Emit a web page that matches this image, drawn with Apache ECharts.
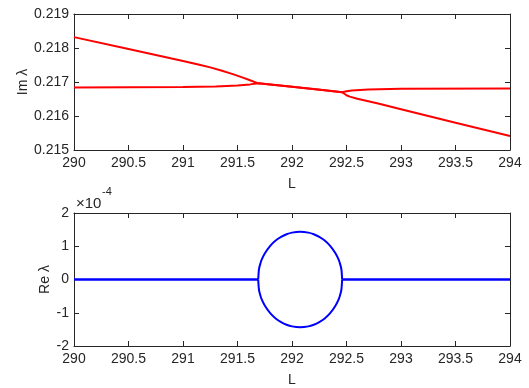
<!DOCTYPE html>
<html><head><meta charset="utf-8">
<script src="https://cdn.jsdelivr.net/npm/echarts@6/dist/echarts.min.js"></script>
<style>html,body{margin:0;padding:0;background:#fff}#c{width:529px;height:388px}</style>
</head><body><div id="c"></div>
<script>
// ---- data ----
const xTicks = [290, 290.5, 291, 291.5, 292, 292.5, 293, 293.5, 294];
const imTicks = [0.215, 0.216, 0.217, 0.218, 0.219];
const reTicks = [-2, -1, 0, 1, 2];

// Im λ branch A: starts high on the left, merges, ends low on the right
const imA_L = [290, 290.5, 291, 291.15, 291.25, 291.35, 291.45, 291.55, 291.615, 291.69, 292.0, 292.3, 292.46, 292.5, 292.53, 292.6, 292.8, 293, 293.5, 294];
const imA_V = [0.21832, 0.21797, 0.21762, 0.21751, 0.21743, 0.21734, 0.21724, 0.21713, 0.21705, 0.21696, 0.21686, 0.21676, 0.21670, 0.21661, 0.21657, 0.21651, 0.21636, 0.21620, 0.21580, 0.21541];
// Im λ branch B: nearly flat on the left, merges, nearly flat on the right
const imB_L = [290, 291, 291.3, 291.5, 291.615, 291.69, 292.0, 292.3, 292.46, 292.5, 292.55, 292.7, 293, 294];
const imB_V = [0.21684, 0.21685, 0.21687, 0.21690, 0.21693, 0.21696, 0.21686, 0.21676, 0.21670, 0.21673, 0.21675, 0.21678, 0.21680, 0.21681];

// Re λ (units of 1e-4)
const reLeft_L = [290, 291.69];
const reLeft_V = [0, 0];
const reRight_L = [292.46, 294];
const reRight_V = [0, 0];
const arc_L = [291.69, 291.695, 291.70, 291.71, 291.72, 291.75, 291.8, 291.85, 291.9, 291.95, 292.0, 292.075, 292.15, 292.2, 292.25, 292.3, 292.35, 292.4, 292.43, 292.44, 292.45, 292.455, 292.46];
const arcUpper_V = [0, 0.25, 0.36, 0.48, 0.58, 0.78, 1.01, 1.17, 1.28, 1.36, 1.41, 1.435, 1.41, 1.36, 1.28, 1.17, 1.01, 0.78, 0.58, 0.48, 0.36, 0.25, 0];
const arcLower_V = [0, -0.25, -0.36, -0.48, -0.58, -0.78, -1.01, -1.17, -1.28, -1.36, -1.41, -1.435, -1.41, -1.36, -1.28, -1.17, -1.01, -0.78, -0.58, -0.48, -0.36, -0.25, 0];

// ---- build ----
const pairs = (xs, ys) => xs.map((x, i) => [x, ys[i]]);
const AX = '#262626';
const FONT = 'Liberation Sans';
const FS = 14;

function xAx(grid, pos, labels, name) {
  return {
    type: 'value', gridIndex: grid, position: pos,
    min: xTicks[0], max: xTicks[xTicks.length - 1], interval: 0.5,
    axisLine: { show: true, onZero: false, lineStyle: { color: AX, width: 1 } },
    axisTick: { show: true, inside: true, length: 5, lineStyle: { color: AX } },
    axisLabel: { show: labels, color: AX, fontFamily: FONT, fontSize: FS, margin: 6 },
    splitLine: { show: false },
    name: name || '', nameLocation: 'middle', nameGap: 27, nameMoveOverlap: false,
    nameTextStyle: { color: AX, fontFamily: FONT, fontSize: FS }
  };
}
function yAx(grid, pos, labels, ticks, name, fmt, gap) {
  return {
    type: 'value', gridIndex: grid, position: pos,
    min: ticks[0], max: ticks[ticks.length - 1], interval: ticks[1] - ticks[0],
    axisLine: { show: true, onZero: false, lineStyle: { color: AX, width: 1 } },
    axisTick: { show: true, inside: true, length: 5, lineStyle: { color: AX } },
    axisLabel: { show: labels, color: AX, fontFamily: FONT, fontSize: FS, margin: 5, formatter: fmt },
    splitLine: { show: false },
    name: name || '', nameLocation: 'middle', nameGap: gap || 40, nameRotate: 90, nameMoveOverlap: false,
    nameTextStyle: { color: AX, fontFamily: FONT, fontSize: FS }
  };
}
const lineS = (xi, yi, data, color, w, sm) => ({
  type: 'line', xAxisIndex: xi, yAxisIndex: yi, data: data, showSymbol: false, symbol: 'none',
  smooth: sm || false,
  lineStyle: { color: color, width: w }, itemStyle: { color: color }, silent: true, z: 3
});

const chart = echarts.init(document.getElementById('c'), null, { renderer: 'canvas' });
chart.setOption({
  animation: false,
  backgroundColor: '#fff',
  grid: [
    { left: 74, right: 19, top: 14, height: 136 },
    { left: 74, right: 19, top: 213, height: 136 }
  ],
  xAxis: [
    xAx(0, 'bottom', true, 'L'),
    xAx(0, 'top', false),
    xAx(1, 'bottom', true, 'L'),
    xAx(1, 'top', false)
  ],
  yAxis: [
    yAx(0, 'left', true, imTicks, 'Im λ', v => v.toFixed(3), 44),
    yAx(0, 'right', false, imTicks),
    yAx(1, 'left', true, reTicks, 'Re λ', v => String(v), 22),
    yAx(1, 'right', false, reTicks)
  ],
  graphic: [
    { type: 'text', left: 76, top: 196,
      style: { text: '×10', fontFamily: FONT, fontSize: 15, fill: AX } },
    { type: 'text', left: 102, top: 186,
      style: { text: '-4', fontFamily: FONT, fontSize: 11, fill: AX } }
  ],
  series: [
    lineS(0, 0, pairs(imA_L, imA_V), '#ff0000', 2),
    lineS(0, 0, pairs(imB_L, imB_V), '#ff0000', 2),
    lineS(2, 2, pairs(reLeft_L, reLeft_V), '#0000ff', 2.5),
    lineS(2, 2, pairs(reRight_L, reRight_V), '#0000ff', 2.5),
    lineS(2, 2, pairs(arc_L, arcUpper_V), '#0000ff', 2, 0.3),
    lineS(2, 2, pairs(arc_L, arcLower_V), '#0000ff', 2, 0.3)
  ]
});
</script></body></html>
